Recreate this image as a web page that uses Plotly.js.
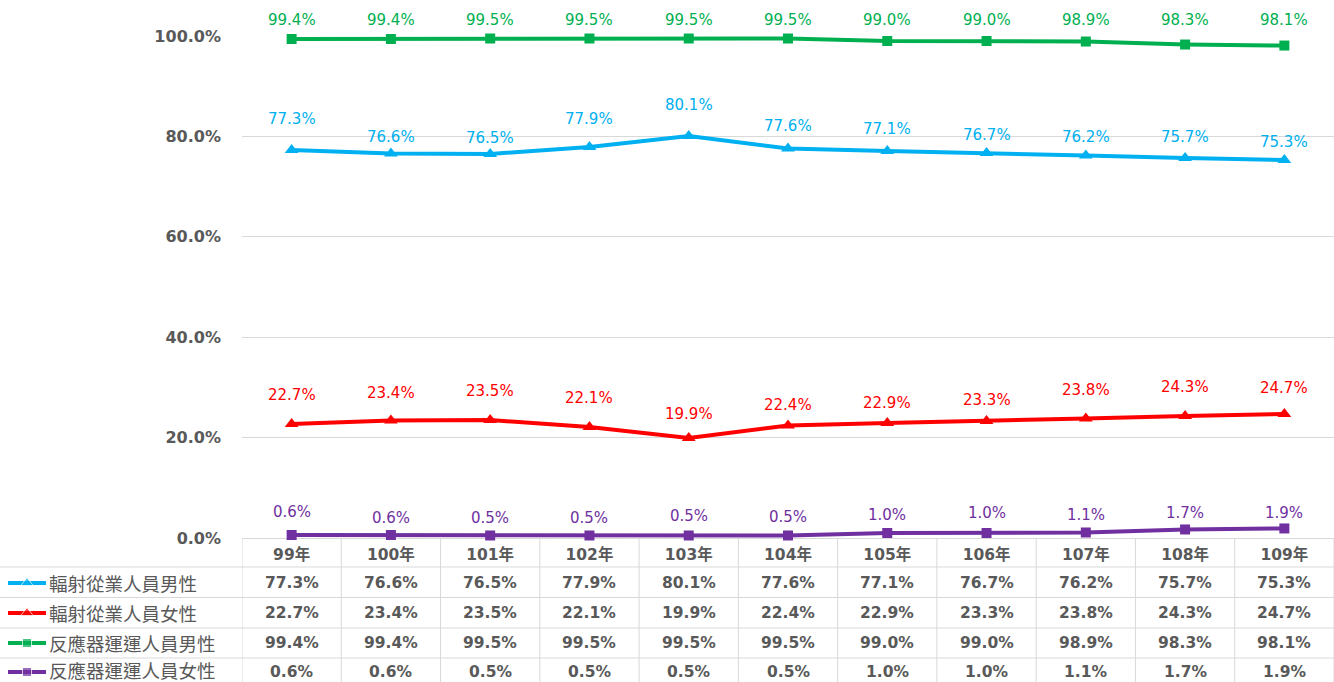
<!DOCTYPE html>
<html>
<head>
<meta charset="utf-8">
<script src="https://cdn.plot.ly/plotly-3.0.1.min.js"></script>
<style>
  html, body { margin: 0; padding: 0; background: #ffffff; }
  #chart { width: 1334px; height: 682px; }
</style>
</head>
<body>
<div id="chart"></div>
<script>
// ---------------- data ----------------
const years = ['99年', '100年', '101年', '102年', '103年', '104年', '105年', '106年', '107年', '108年', '109年'];
const seriesNames = ['輻射從業人員男性', '輻射從業人員女性', '反應器運運人員男性', '反應器運運人員女性'];
const radiationMale   = [77.3, 76.6, 76.5, 77.9, 80.1, 77.6, 77.1, 76.7, 76.2, 75.7, 75.3];
const radiationFemale = [22.7, 23.4, 23.5, 22.1, 19.9, 22.4, 22.9, 23.3, 23.8, 24.3, 24.7];
const reactorMale     = [99.4, 99.4, 99.5, 99.5, 99.5, 99.5, 99.0, 99.0, 98.9, 98.3, 98.1];
const reactorFemale   = [0.6, 0.6, 0.5, 0.5, 0.5, 0.5, 1.0, 1.0, 1.1, 1.7, 1.9];
const yTicks = [0, 20, 40, 60, 80, 100];

// ---------------- styles ----------------
const W = 1334, H = 682;
const plotLeft = 242, plotTop = 36, plotBottom = 538;
const colors = ['#00B0F0', '#FF0000', '#00B050', '#7030A0'];
const symbols = ['triangle-up', 'triangle-up', 'square', 'square'];
const markerSizes = [12, 12, 10, 10];
// data-label lift above each marker (pixels), as placed in the source chart
const labelLift = [
  [31, 16, 16, 28, 31, 22, 22, 18, 18, 21, 18],
  [29, 28, 29, 29, 24, 21, 20, 21, 29, 29, 26],
  [19, 19, 18.5, 18.5, 18.5, 18.5, 21, 21, 21.5, 24.5, 25.5],
  [23, 17, 17.5, 17.5, 19.5, 18.5, 18, 20, 17.5, 16.5, 15.5]
];
const rowCenters = [583, 613, 643, 672];
const legendTextY = [583, 613, 643, 670];
const rowLines = [567, 597.5, 628, 658];
const grey = '#595959';
const gridGrey = '#d9d9d9';
const numFont = 'DejaVu Sans, Noto Sans CJK TC, sans-serif';
const cjkFont = 'Noto Sans CJK TC, sans-serif';

const seriesData = [radiationMale, radiationFemale, reactorMale, reactorFemale];
const xIdx = years.map((_, i) => i);

const traces = [];
const annotations = [];
const shapes = [];

// main series
seriesData.forEach((vals, s) => {
  traces.push({
    type: 'scatter', mode: 'lines+markers',
    x: xIdx, y: vals, name: seriesNames[s],
    xaxis: 'x', yaxis: 'y',
    line: { color: colors[s], width: 4 },
    marker: { color: colors[s], symbol: symbols[s], size: markerSizes[s] },
    cliponaxis: false, hoverinfo: 'skip', showlegend: false
  });
  vals.forEach((v, i) => {
    annotations.push({
      xref: 'x', yref: 'y', x: i, y: v, yshift: labelLift[s][i],
      text: v.toFixed(1) + '%', showarrow: false,
      font: { family: numFont, size: 15, color: colors[s] }
    });
    // data table cell
    annotations.push({
      xref: 'x', yref: 'y2', x: i, y: rowCenters[s],
      text: v.toFixed(1) + '%', showarrow: false,
      font: { family: numFont, size: 15.5, color: grey, weight: 'bold' }
    });
  });
  // legend key in table
  traces.push({
    type: 'scatter', mode: 'lines+markers',
    x: [8, 27, 46], y: [rowCenters[s], rowCenters[s], rowCenters[s]],
    xaxis: 'x2', yaxis: 'y2',
    line: { color: colors[s], width: 4 },
    marker: { color: colors[s], symbol: symbols[s], size: [0, markerSizes[s] - 1, 0] },
    cliponaxis: false, hoverinfo: 'skip', showlegend: false
  });
  annotations.push({
    xref: 'x2', yref: 'y2', x: 48, y: legendTextY[s], xanchor: 'left',
    text: seriesNames[s], showarrow: false, borderpad: 0,
    font: { family: cjkFont, size: 18.5, color: grey }
  });
});

// table grid
for (let k = 0; k <= years.length; k++) {
  shapes.push({
    type: 'line', xref: 'x', yref: 'y2',
    x0: k - 0.5, x1: k - 0.5, y0: plotBottom, y1: H,
    line: { color: gridGrey, width: 1 }, layer: 'below'
  });
}
rowLines.forEach(yy => {
  shapes.push({
    type: 'line', xref: 'x2', yref: 'y2',
    x0: 0, x1: W, y0: yy, y1: yy,
    line: { color: gridGrey, width: 1 }, layer: 'below'
  });
});

const layout = {
  width: W, height: H,
  margin: { l: 0, r: 0, t: 0, b: 0, pad: 0 },
  paper_bgcolor: '#ffffff', plot_bgcolor: 'rgba(0,0,0,0)',
  showlegend: false,
  xaxis: {
    domain: [plotLeft / W, 1], range: [-0.5, years.length - 0.5],
    tickmode: 'array', tickvals: xIdx, ticktext: years,
    showgrid: false, zeroline: false, showline: false, ticks: '',
    ticklabelstandoff: 5,
    tickfont: { family: numFont, size: 15.5, color: grey, weight: 'bold' },
    fixedrange: true
  },
  yaxis: {
    domain: [(H - plotBottom) / H, (H - plotTop) / H], range: [0, 100],
    tickmode: 'array', tickvals: yTicks,
    ticktext: yTicks.map(t => t.toFixed(1) + '%'),
    showgrid: true, gridcolor: gridGrey, gridwidth: 1,
    zeroline: true, zerolinecolor: gridGrey, zerolinewidth: 1,
    showline: false, ticks: '', ticklabelstandoff: 20,
    tickfont: { family: numFont, size: 16, color: grey, weight: 'bold' },
    fixedrange: true
  },
  xaxis2: { domain: [0, 1], range: [0, W], visible: false, anchor: 'y2', fixedrange: true },
  yaxis2: { domain: [0, 1], range: [H, 0], visible: false, anchor: 'x2', fixedrange: true },
  annotations: annotations,
  shapes: shapes
};

Plotly.newPlot('chart', traces, layout, { displayModeBar: false, staticPlot: true });
</script>
</body>
</html>
